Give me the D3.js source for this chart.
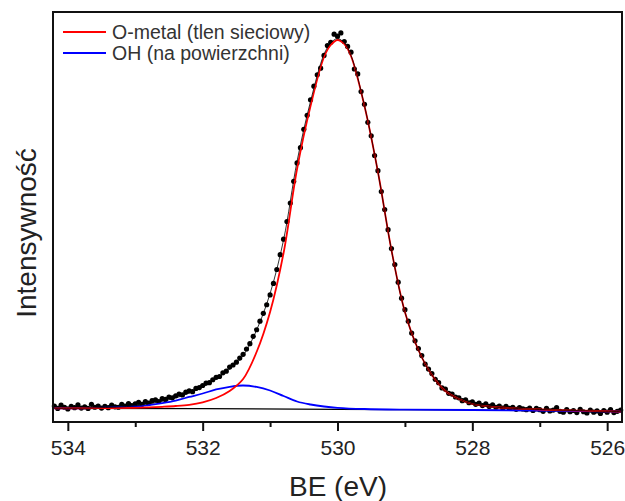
<!DOCTYPE html>
<html>
<head>
<meta charset="utf-8">
<script src="https://cdn.jsdelivr.net/npm/d3@7/dist/d3.min.js"></script>
<style>
  html, body { margin: 0; padding: 0; background: #fff; }
  svg { display: block; font-family: "Liberation Sans", Arial, sans-serif; }
</style>
</head>
<body>
<svg id="chart" width="625" height="501"></svg>
<script>
// ---- measured spectrum (binding energy, eV) ----
const dataBE = [534.20,534.15,534.10,534.05,534.00,533.95,533.90,533.85,533.80,533.75,533.70,533.65,533.60,533.55,533.50,533.45,533.40,533.35,533.30,533.25,533.20,533.15,533.10,533.05,533.00,532.95,532.90,532.85,532.80,532.75,532.70,532.65,532.60,532.55,532.50,532.45,532.40,532.35,532.30,532.25,532.20,532.15,532.10,532.05,532.00,531.95,531.90,531.85,531.80,531.75,531.70,531.65,531.60,531.55,531.50,531.45,531.40,531.35,531.30,531.25,531.20,531.15,531.10,531.05,531.00,530.95,530.90,530.85,530.80,530.75,530.70,530.65,530.60,530.55,530.50,530.45,530.40,530.35,530.30,530.25,530.20,530.15,530.10,530.05,530.00,529.95,529.90,529.85,529.80,529.75,529.70,529.65,529.60,529.55,529.50,529.45,529.40,529.35,529.30,529.25,529.20,529.15,529.10,529.05,529.00,528.95,528.90,528.85,528.80,528.75,528.70,528.65,528.60,528.55,528.50,528.45,528.40,528.35,528.30,528.25,528.20,528.15,528.10,528.05,528.00,527.95,527.90,527.85,527.80,527.75,527.70,527.65,527.60,527.55,527.50,527.45,527.40,527.35,527.30,527.25,527.20,527.15,527.10,527.05,527.00,526.95,526.90,526.85,526.80,526.75,526.70,526.65,526.60,526.55,526.50,526.45,526.40,526.35,526.30,526.25,526.20,526.15,526.10,526.05,526.00,525.95,525.90,525.85,525.80];
const dataIntensity = [3.9,3.3,4.1,3.6,3.2,3.8,3.5,4.2,3.4,3.7,3.3,4.3,3.6,3.9,3.4,3.8,3.5,4.1,3.7,3.6,4.3,3.9,4.5,4.0,4.4,4.8,4.3,5.0,4.6,5.2,5.4,5.0,5.7,5.5,6.1,5.9,6.4,6.8,6.6,7.3,7.6,7.4,8.2,8.4,8.9,9.5,9.6,10.3,10.9,11.1,12.0,12.4,13.4,13.9,14.6,15.6,16.5,17.8,19.1,20.9,22.5,24.6,26.5,28.6,31.0,33.8,37.2,40.8,44.6,48.9,53.4,58.7,63.2,66.9,71.4,74.8,78.6,81.9,84.7,86.3,89.4,91.8,92.6,94.6,94.1,94.9,92.8,91.6,90.2,86.1,84.9,80.6,77.5,73.1,69.8,65.0,61.3,56.2,51.8,46.9,42.3,38.4,34.1,30.2,27.4,24.6,21.7,19.8,17.9,16.2,14.1,12.9,11.8,10.4,9.6,8.3,8.0,7.0,6.8,6.1,5.9,5.2,5.4,4.7,4.9,4.3,4.6,4.0,4.4,3.8,4.2,3.6,3.9,3.4,3.8,3.3,3.6,3.1,3.5,3.2,3.0,3.4,2.8,3.3,3.0,2.6,3.3,2.7,2.9,3.5,2.6,2.4,3.0,2.5,2.8,2.3,3.1,2.5,2.2,2.9,2.4,2.7,2.1,2.8,2.4,3.0,2.3,2.6,2.9];

// ---- fitted curves ----
const fitBE = [534.2,533.6,533.0,532.8,532.6,532.4,532.2,532.0,531.8,531.6,531.4,531.2,531.0,530.8,530.6,530.4,530.2,530.1,530.0,529.9,529.8,529.6,529.4,529.2,529.0,528.8,528.6,528.4,528.2,528.0,527.8,527.6,527.0,526.4,525.8];
const oMetalFit = [3.34,3.37,3.46,3.56,3.71,3.90,4.20,4.80,5.85,7.56,10.49,17.07,26.83,41.22,61.71,77.07,89.02,91.95,93.17,92.20,89.27,77.07,60.98,41.95,26.83,17.56,11.46,7.56,5.61,4.39,3.85,3.54,3.05,2.78,2.54];
const envelopeFit = [3.34,3.45,3.93,4.41,5.05,5.86,7.04,8.50,10.54,12.93,16.18,22.42,31.34,44.40,63.57,78.21,89.69,92.45,93.53,92.45,89.42,77.18,60.98,41.95,26.83,17.56,11.46,7.56,5.61,4.39,3.85,3.54,3.05,2.78,2.54];
const ohBE = [534.2,533.6,533.0,532.8,532.6,532.4,532.2,532.0,531.8,531.6,531.4,531.2,531.0,530.8,530.6,530.4,530.2,530.0,529.6,529.0,528.0,525.8];
const ohFit = [3.34,3.41,3.78,4.15,4.63,5.24,6.10,6.95,7.93,8.59,8.90,8.54,7.68,6.34,5.00,4.27,3.78,3.46,3.17,3.02,2.93,2.54];
const backgroundBE = [534.2,532.0,530.0,528.0,526.8,525.8];
const backgroundFit = [3.34,3.25,3.10,2.93,2.72,2.54];

// ---- axis ----
const majorTicks = [534, 532, 530, 528, 526];
const minorTicks = [533, 531, 529, 527];
const legendLabels = ["O-metal (tlen sieciowy)", "OH (na powierzchni)"];
const legendColors = ["#ff0000", "#0000ff"];
const xTitle = "BE (eV)";
const yTitle = "Intensywność";

const svg = d3.select("#chart");
const L = 53, R = 622, T = 12, B = 422;

const x = d3.scaleLinear().domain([534.22, 525.78]).range([L, R]);
const y = d3.scaleLinear().domain([0, 100]).range([B, T]);

const pts = (xs, ys) => xs.map((d, i) => [d, ys[i]]);
const line = d3.line().x(d => x(d[0])).y(d => y(d[1])).curve(d3.curveCatmullRom.alpha(0.5));
const lineLin = d3.line().x(d => x(d[0])).y(d => y(d[1]));

const plot = svg.append("g");

// data points
plot.append("g").selectAll("circle")
  .data(pts(dataBE, dataIntensity))
  .join("circle")
  .attr("cx", d => x(d[0]))
  .attr("cy", d => y(d[1]))
  .attr("r", 2.6)
  .attr("fill", "#000");

// background
plot.append("path").datum(pts(backgroundBE, backgroundFit))
  .attr("d", lineLin).attr("fill", "none").attr("stroke", "#000").attr("stroke-width", 1.2);

// OH component
plot.append("path").datum(pts(ohBE, ohFit))
  .attr("d", line).attr("fill", "none").attr("stroke", legendColors[1]).attr("stroke-width", 1.8);

// O-metal component
plot.append("path").datum(pts(fitBE, oMetalFit))
  .attr("d", line).attr("fill", "none").attr("stroke", legendColors[0]).attr("stroke-width", 1.8);

// envelope
plot.append("path").datum(pts(fitBE, envelopeFit))
  .attr("d", line).attr("fill", "none").attr("stroke", "#000").attr("stroke-width", 1).attr("stroke-opacity", 0.8);

// frame
svg.append("rect").attr("x", L).attr("y", T).attr("width", R - L).attr("height", B - T)
  .attr("fill", "none").attr("stroke", "#111").attr("stroke-width", 2);

// bottom axis
const ax = svg.append("g").attr("transform", `translate(0,${B})`)
  .call(d3.axisBottom(x).tickValues(majorTicks).tickSize(9).tickPadding(9).tickFormat(d3.format("d")));
ax.select(".domain").remove();
ax.selectAll(".tick line").attr("stroke", "#111").attr("stroke-width", 2);
ax.selectAll(".tick text").attr("font-size", 21).attr("fill", "#222")
  .attr("font-family", "'Liberation Sans', Arial, sans-serif");

const axm = svg.append("g").attr("transform", `translate(0,${B})`)
  .call(d3.axisBottom(x).tickValues(minorTicks).tickSize(5).tickFormat(""));
axm.select(".domain").remove();
axm.selectAll(".tick line").attr("stroke", "#111").attr("stroke-width", 2);

// axis titles
svg.append("text").attr("x", 338).attr("y", 496).attr("text-anchor", "middle")
  .attr("font-size", 28).attr("fill", "#222").text(xTitle);
svg.append("text").attr("transform", "translate(36,233) rotate(-90)").attr("text-anchor", "middle")
  .attr("font-size", 28).attr("fill", "#222").text(yTitle);

// legend
const lg = svg.append("g");
legendLabels.forEach((lab, i) => {
  const ly = 32 + i * 21;
  lg.append("line").attr("x1", 63).attr("x2", 106).attr("y1", ly).attr("y2", ly)
    .attr("stroke", legendColors[i]).attr("stroke-width", 1.8);
  lg.append("text").attr("x", 112).attr("y", ly + 7).attr("font-size", 19.5).attr("fill", "#333").text(lab);
});
</script>
</body>
</html>
